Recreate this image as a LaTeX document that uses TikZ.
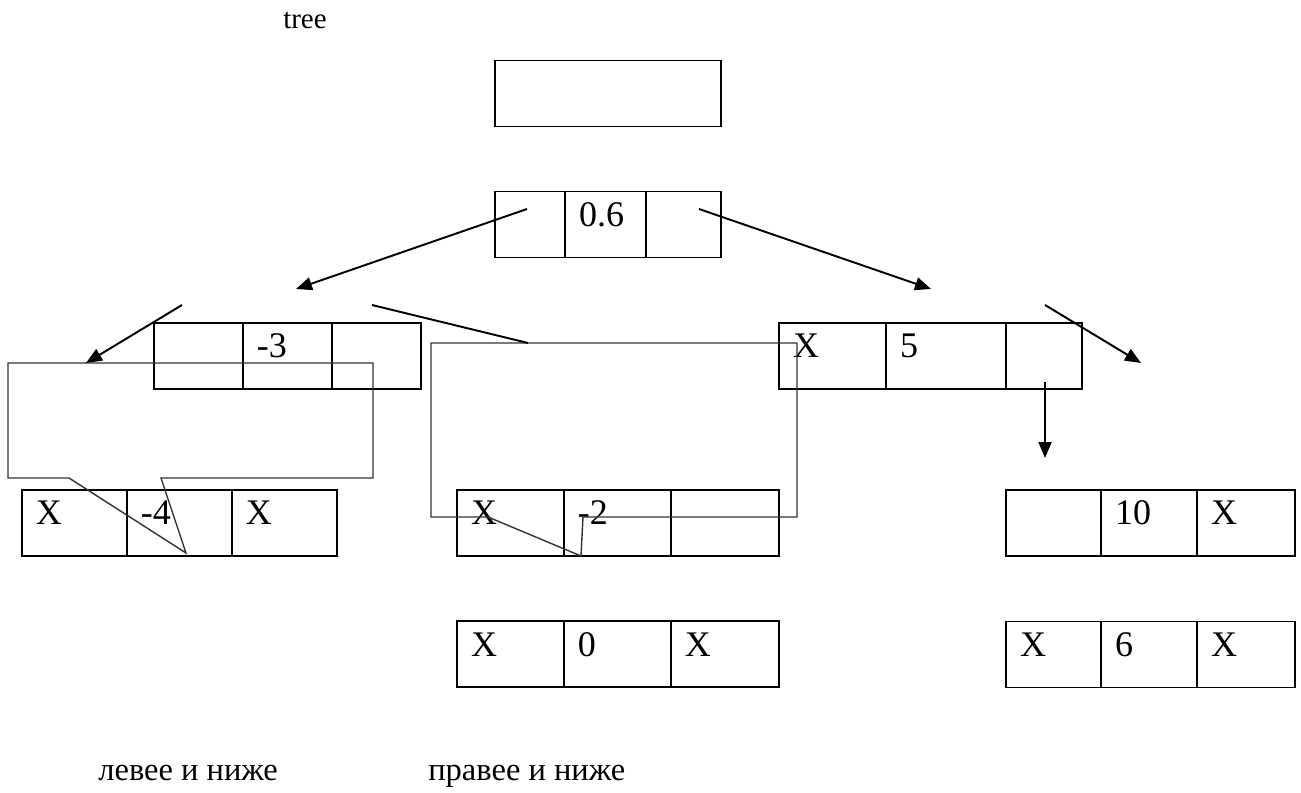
\documentclass[tikz,border=0pt]{standalone}
\usepackage{fontspec}
\setmainfont{Liberation Serif}
\usetikzlibrary{arrows.meta, positioning}

\begin{document}
\begin{tikzpicture}[
    x=0.02cm, y=-0.02cm,
    cell/.style = {rectangle, draw, line width=1.1pt, outer sep=0pt,
                   inner xsep=0.28cm, inner ysep=0pt, anchor=west,
                   text width={(#1-28)*0.02cm}, align=left,
                   minimum height=1.32cm, text height=0.5cm, text depth=0.42cm,
                   font=\fontsize{20.5}{24}\selectfont},
    merke/.style = {inner sep=0pt, font=\fontsize{18.5}{22}\selectfont},
    pil/.style = {black, line width=1.1pt, -{Triangle[length=0.32cm, width=0.26cm]}},
    strek/.style = {black, line width=1.1pt},
    boble/.style = {draw=black!80, line width=0.8pt}
    ]
  \useasboundingbox (0,0) rectangle (1301,793);

  \node[merke, font=\fontsize{16.5}{20}\selectfont] (tree) at (305,20) {tree} ;
  \node[cell=226] (root) at (495,93.5) {} ;

  % 0.6
  \node[cell=70] (a1) at (495,224.5) {} ;
  \node[cell=81] (a2) [right=0pt of a1] {0.6} ;
  \node[cell=75] (a3) [right=0pt of a2] {} ;

  % -3
  \node[cell=89] (b1) at (154,356) {} ;
  \node[cell=89] (b2) [right=0pt of b1] {-3} ;
  \node[cell=89] (b3) [right=0pt of b2] {} ;

  % 5
  \node[cell=107] (c1) at (779,356) {X} ;
  \node[cell=120] (c2) [right=0pt of c1] {5} ;
  \node[cell=76] (c3) [right=0pt of c2] {} ;

  % -4
  \node[cell=105] (d1) at (22,523) {X} ;
  \node[cell=105] (d2) [right=0pt of d1] {-4} ;
  \node[cell=105] (d3) [right=0pt of d2] {X} ;

  % -2
  \node[cell=107] (e1) at (457,523) {X} ;
  \node[cell=107] (e2) [right=0pt of e1] {-2} ;
  \node[cell=108] (e3) [right=0pt of e2] {} ;

  % 0
  \node[cell=107] (f1) at (457,654) {X} ;
  \node[cell=107] (f2) [right=0pt of f1] {0} ;
  \node[cell=108] (f3) [right=0pt of f2] {X} ;

  % 10
  \node[cell=95] (g1) at (1006,523) {} ;
  \node[cell=96] (g2) [right=0pt of g1] {10} ;
  \node[cell=98] (g3) [right=0pt of g2] {X} ;

  % 6
  \node[cell=95] (h1) at (1006,654.5) {X} ;
  \node[cell=96] (h2) [right=0pt of h1] {6} ;
  \node[cell=98] (h3) [right=0pt of h2] {X} ;

  \node[merke, anchor=base west] (venstre) at (98,780) {левее и ниже} ;
  \node[merke, anchor=base west] (hoyre) at (428,780) {правее и ниже} ;

  % callouts
  \draw[boble] (8,363) -- (373,363) -- (373,478) -- (161,478) -- (186,553)
    -- (69,478) -- (8,478) -- cycle ;
  \draw[boble] (431,343) -- (797,343) -- (797,517) -- (583,517) -- (581,556)
    -- (488,517) -- (431,517) -- cycle ;

  \coordinate (s1) at (527,209) ;
  \coordinate (t1) at (296,289) ;
  \coordinate (s2) at (699,209) ;
  \coordinate (t2) at (931,289) ;
  \coordinate (s3) at (182,305) ;
  \coordinate (t3) at (86,363) ;
  \coordinate (s4) at (372,305) ;
  \coordinate (t4) at (528,343) ;
  \coordinate (s5) at (1045,305) ;
  \coordinate (t5) at (1141,363) ;
  \coordinate (s6) at (1045,382) ;
  \coordinate (t6) at (1045,458) ;

  \draw[pil] (s1) -- (t1) ;
  \draw[pil] (s2) -- (t2) ;
  \draw[pil] (s3) -- (t3) ;
  \draw[pil] (s5) -- (t5) ;
  \draw[pil] (s6) -- (t6) ;
  \draw[strek] (s4) -- (t4) ;
\end{tikzpicture}
\end{document}
